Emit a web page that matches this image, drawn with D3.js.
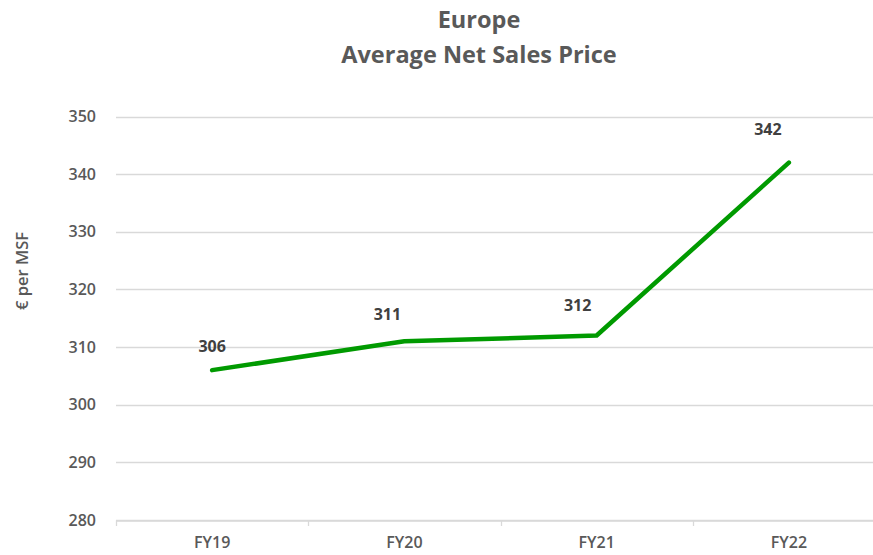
<!DOCTYPE html>
<html><head><meta charset="utf-8">
<script src="https://cdn.jsdelivr.net/npm/d3@7"></script>
<style>body{margin:0;background:#fff;} svg{display:block;}</style>
</head><body>
<svg id="chart" width="873" height="555"></svg>
<script>
const categories = ["FY19", "FY20", "FY21", "FY22"];
const values = [306, 311, 312, 342];
const yTicks = [280, 290, 300, 310, 320, 330, 340, 350];
const titleLines = ["Europe", "Average Net Sales Price"];
const yAxisTitle = "€ per MSF";
// manual label nudges (px) as in the original
const labelOffsets = [[0, -24], [-17, -27], [-19, -30], [-21, -33]];

(function () {
const svg = d3.select("#chart");
const pl = 116, pr = 885, pt = 116.5, pb = 520;
const font = "'Open Sans', sans-serif";

const x = d3.scaleBand().domain(categories).range([pl, pr]).padding(0);
const y = d3.scaleLinear().domain([280, 350]).range([pb, pt]);

// gridlines
svg.append("g").selectAll("line").data(yTicks).join("line")
  .attr("x1", pl).attr("x2", pr)
  .attr("y1", d => Math.round(y(d)) + 0.5).attr("y2", d => Math.round(y(d)) + 0.5)
  .attr("stroke", "#d9d9d9").attr("stroke-width", 1.3);

// y axis labels
const yAxis = d3.axisLeft(y).tickValues(yTicks).tickSize(0).tickPadding(20);
const gy = svg.append("g").attr("transform", `translate(${pl},0)`).call(yAxis);
gy.select(".domain").remove();
gy.selectAll("text").attr("font-family", font).attr("font-size", 16).attr("font-weight", 600).attr("fill", "#595959");

// x axis
const xAxis = d3.axisBottom(x).tickSize(0).tickPadding(16);
const gx = svg.append("g").attr("transform", `translate(0,${Math.round(pb)+0.5})`).call(xAxis);
gx.select(".domain").attr("stroke", "#d9d9d9").attr("stroke-width", 1.3);
gx.selectAll("text").attr("font-family", font).attr("font-size", 16).attr("font-weight", 600).attr("fill", "#595959");
// category boundary ticks
const bounds = categories.map(c => x(c));
svg.append("g").selectAll("line").data(bounds).join("line")
  .attr("x1", d => Math.round(d) + 0.5).attr("x2", d => Math.round(d) + 0.5)
  .attr("y1", Math.round(pb) + 0.5).attr("y2", Math.round(pb) + 6)
  .attr("stroke", "#d9d9d9").attr("stroke-width", 1.3);

// line
const cx = c => x(c) + x.bandwidth() / 2;
const line = d3.line().x((d, i) => cx(categories[i])).y(d => y(d));
svg.append("path").datum(values).attr("d", line)
  .attr("fill", "none").attr("stroke", "#009a00").attr("stroke-width", 4.5)
  .attr("stroke-linejoin", "round").attr("stroke-linecap", "round");

// data labels
svg.append("g").selectAll("text").data(values).join("text")
  .attr("x", (d, i) => cx(categories[i]) + labelOffsets[i][0])
  .attr("y", (d, i) => y(d) + labelOffsets[i][1])
  .attr("dy", "0.35em").attr("text-anchor", "middle")
  .attr("font-family", font).attr("font-size", 16).attr("font-weight", 700).attr("fill", "#404040")
  .text(d => d);

// title
svg.append("g").selectAll("text").data(titleLines).join("text")
  .attr("x", 479).attr("y", (d, i) => 20 + i * 35).attr("dy", "0.35em")
  .attr("text-anchor", "middle").attr("font-family", font).attr("font-size", 23.5).attr("font-weight", 700)
  .attr("fill", "#595959").text(d => d);

// y axis title
svg.append("text").attr("transform", "translate(22,271) rotate(-90)")
  .attr("dy", "0.35em").attr("text-anchor", "middle")
  .attr("font-family", font).attr("font-size", 16.5).attr("font-weight", 600).attr("fill", "#595959").text(yAxisTitle);
})();
</script>
</body></html>
